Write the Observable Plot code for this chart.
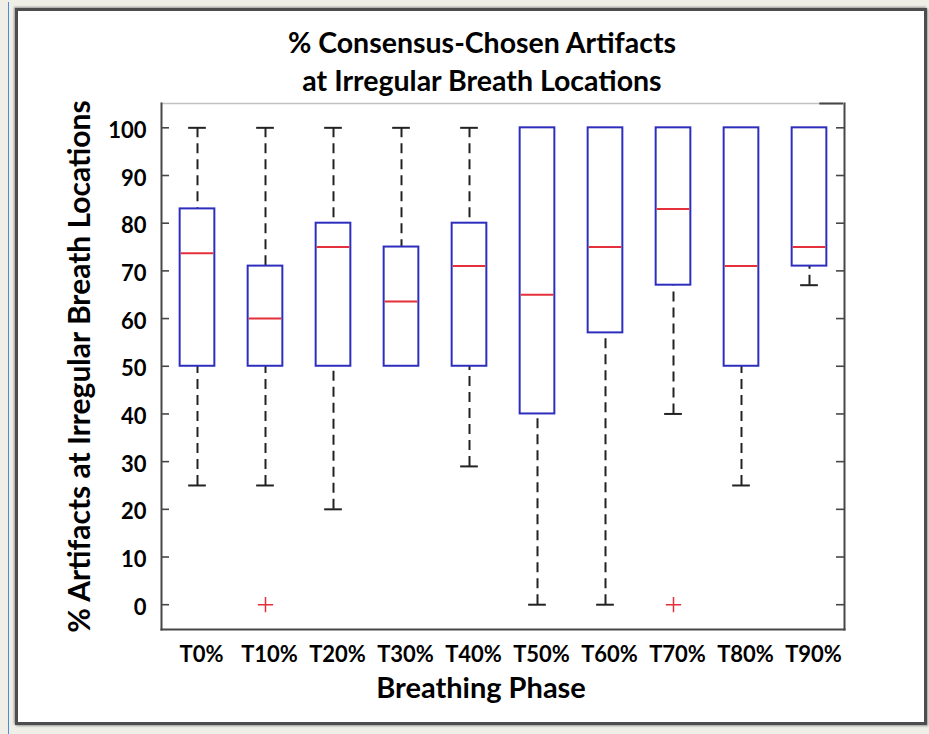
<!DOCTYPE html>
<html>
<head>
<meta charset="utf-8">
<script src="https://cdn.jsdelivr.net/npm/d3@7"></script>
<script src="https://cdn.jsdelivr.net/npm/@observablehq/plot@0.6"></script>
<style>
  html, body { margin: 0; padding: 0; }
  body { width: 929px; height: 734px; overflow: hidden; position: relative; background: #efeee7; font-family: Lato, "Open Sans", sans-serif; }
  #edge { position: absolute; left: 8px; top: 2px; width: 1px; height: 732px; background: #4f8bd6; }
  #panel { position: absolute; left: 15px; top: 8px; width: 912px; height: 717px; box-sizing: border-box; background: #fff; border: 3px solid #4d4d4d; box-shadow: -1px -1px 2px #9a9a9a, 1px 1px 2px #9a9a9a; }
  #chart { position: absolute; left: 0; top: 0; }
  #chart svg { overflow: visible; }
</style>
</head>
<body>
<div id="edge"></div>
<div id="panel"></div>
<div id="chart"></div>
<script>
// Breathing phases along the x axis
const phases = ["T0%", "T10%", "T20%", "T30%", "T40%", "T50%", "T60%", "T70%", "T80%", "T90%"];
// Box-plot statistics per phase (% artifacts at irregular breath locations)
const whiskerLow  = [25, 25, 20, 50, 29, 0, 0, 40, 25, 67];
const q1          = [50, 50, 50, 50, 50, 40, 57, 67, 50, 71];
const median      = [73.7, 60, 75, 63.6, 71, 65, 75, 83, 71, 75];
const q3          = [83, 71, 80, 75, 80, 100, 100, 100, 100, 100];
const whiskerHigh = [100, 100, 100, 100, 100, 100, 100, 100, 100, 100];
// Outliers
const outlierPhase = ["T10%", "T70%"];
const outlierValue = [0, 0];
// Axis ticks and text
const yTicks = [0, 10, 20, 30, 40, 50, 60, 70, 80, 90, 100];
const yDomain = [-5.2, 105.1];
const titleText = "% Consensus-Chosen Artifacts\nat Irregular Breath Locations";
const xLabel = "Breathing Phase";
const yLabel = "% Artifacts at Irregular Breath Locations";

const stats = phases.map((p, i) => ({
  phase: p, lo: whiskerLow[i], q1: q1[i], med: median[i], q3: q3[i], hi: whiskerHigh[i]
}));
const outliers = outlierPhase.map((p, i) => ({phase: p, value: outlierValue[i]}));

const W = 929, H = 734;
const mL = 161, mR = 85, mT = 103, mB = 105;
const plotW = W - mL - mR;
const band = plotW / phases.length;
const boxInset = (band - 35) / 2;
const capInset = (band - 18) / 2;

const blue = "#2e2ebe", red = "#e3303a", ink = "#222", axisInk = "#474747";
const font = "Lato, 'Open Sans', sans-serif";

const chart = Plot.plot({
  width: W,
  height: H,
  marginLeft: mL,
  marginRight: mR,
  marginTop: mT,
  marginBottom: mB,
  style: {background: "transparent", fontFamily: font, color: "#000"},
  x: {type: "band", domain: phases, padding: 0, label: null},
  y: {domain: yDomain, label: null},
  marks: [
    // axis frame
    Plot.frame({anchor: "top", stroke: "#c2c2c2", strokeWidth: 1.5}),
    Plot.frame({anchor: "left", stroke: axisInk, strokeWidth: 2}),
    Plot.frame({anchor: "bottom", stroke: axisInk, strokeWidth: 2}),
    Plot.frame({anchor: "right", stroke: axisInk, strokeWidth: 2}),
    Plot.tickY([yDomain[1]], {y: d => d, x: () => "T90%", insetLeft: band - 24, stroke: axisInk, strokeWidth: 2}),
    // inward ticks on both sides
    Plot.tickY(yTicks, {y: d => d, insetRight: plotW - 8, stroke: axisInk, strokeWidth: 1.6}),
    Plot.tickY(yTicks, {y: d => d, insetLeft: plotW - 8, stroke: axisInk, strokeWidth: 1.6}),
    Plot.axisY({ticks: yTicks, tickSize: 0, tickPadding: 15, dy: 3, fontSize: 22, fontWeight: "bold", label: null}),
    Plot.axisX({tickSize: 0, tickPadding: 17, dx: 4, fontSize: 22, fontWeight: "bold", label: null}),
    // whiskers and caps (caps only where the whisker extends beyond the box)
    Plot.ruleX(stats, {x: "phase", y1: "hi", y2: "q3", stroke: ink, strokeWidth: 2, strokeDasharray: "10,6"}),
    Plot.ruleX(stats, {x: "phase", y1: "lo", y2: "q1", stroke: ink, strokeWidth: 2, strokeDasharray: "10,6"}),
    Plot.tickY(stats, {filter: d => d.hi > d.q3, x: "phase", y: "hi", insetLeft: capInset, insetRight: capInset, stroke: ink, strokeWidth: 2}),
    Plot.tickY(stats, {filter: d => d.lo < d.q1, x: "phase", y: "lo", insetLeft: capInset, insetRight: capInset, stroke: ink, strokeWidth: 2}),
    // boxes and medians
    Plot.barY(stats, {x: "phase", y1: "q1", y2: "q3", insetLeft: boxInset, insetRight: boxInset, fill: "white", stroke: blue, strokeWidth: 2}),
    Plot.tickY(stats, {x: "phase", y: "med", insetLeft: boxInset + 1, insetRight: boxInset + 1, stroke: red, strokeWidth: 2}),
    // outliers
    Plot.dot(outliers, {x: "phase", y: "value", symbol: "plus", r: 5, stroke: red, strokeWidth: 1.5}),
    // title and axis labels
    Plot.text([titleText], {frameAnchor: "top", dx: -21, dy: -13, lineAnchor: "bottom", lineHeight: 1.33, fontSize: 28.5, fontWeight: "bold", fill: "#000"}),
    Plot.text([xLabel], {frameAnchor: "bottom", dx: -22, dy: 68, lineAnchor: "bottom", fontSize: 29, fontWeight: "bold", fill: "#000"}),
    Plot.text([yLabel], {frameAnchor: "left", textAnchor: "middle", dx: -81, rotate: -90, fontSize: 30, fontWeight: "bold", fill: "#000"})
  ]
});

document.getElementById("chart").appendChild(chart);
</script>
</body>
</html>
